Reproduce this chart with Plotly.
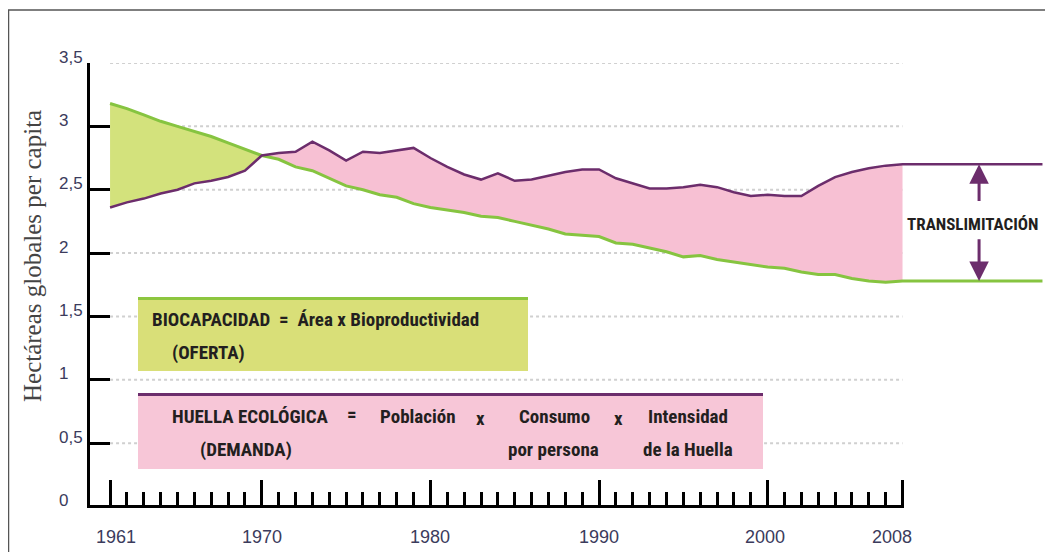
import plotly.graph_objects as go

years = list(range(1961, 2009))
huella = [2.36, 2.40, 2.43, 2.47, 2.50, 2.55, 2.57, 2.60, 2.65, 2.77,
          2.79, 2.80, 2.88, 2.81, 2.73, 2.80, 2.79, 2.81, 2.83, 2.75,
          2.68, 2.62, 2.58, 2.63, 2.57, 2.58, 2.61, 2.64, 2.66, 2.66,
          2.59, 2.55, 2.51, 2.51, 2.52, 2.54, 2.52, 2.48, 2.45, 2.46,
          2.45, 2.45, 2.53, 2.60, 2.64, 2.67, 2.69, 2.70]
biocapacidad = [3.18, 3.14, 3.09, 3.04, 3.00, 2.96, 2.92, 2.87, 2.82, 2.77,
                2.74, 2.68, 2.65, 2.59, 2.53, 2.50, 2.46, 2.44, 2.39, 2.36,
                2.34, 2.32, 2.29, 2.28, 2.25, 2.22, 2.19, 2.15, 2.14, 2.13,
                2.08, 2.07, 2.04, 2.01, 1.97, 1.98, 1.95, 1.93, 1.91, 1.89,
                1.88, 1.85, 1.83, 1.83, 1.80, 1.78, 1.77, 1.78]
label_years = [1961, 1970, 1980, 1990, 2000, 2008]
label_shift = [6, 0, 0, 0, -3, -11]
y_ticks = [0, 0.5, 1, 1.5, 2, 2.5, 3, 3.5]
cruce = years.index(1970)
fin_lineas = 2016.3

VERDE = '#86C440'
VERDE_FILL = '#D3E27C'
MORADO = '#6C2D6C'
ROSA = '#F7C0D3'
TXT = '#231F20'
EJE_TXT = '#3B3B5C'
FONT_TXT = 'Roboto Condensed, Liberation Sans Narrow, DejaVu Sans Condensed, Roboto, sans-serif'
FONT_EJE = 'Liberation Sans, Arial, sans-serif'

x_range = [1959.81, 2016.45]

# page pixel -> paper (page has 8px body margin; plot area 90..1045 x 63..508 on the page)
def xp(p):
    return (p - 90) / 955

def yp(p):
    return (508 - p) / 445

fig = go.Figure()

# relleno verde (1961-1970) y rosa (1970-2008)
fig.add_trace(go.Scatter(x = years[:cruce + 1], y = huella[:cruce + 1], mode = 'lines', line = dict(width = 0), hoverinfo = 'skip'))
fig.add_trace(go.Scatter(x = years[:cruce + 1], y = biocapacidad[:cruce + 1], mode = 'lines', line = dict(width = 0),
    fill = 'tonexty', fillcolor = VERDE_FILL, hoverinfo = 'skip'))
fig.add_trace(go.Scatter(x = years[cruce:], y = biocapacidad[cruce:], mode = 'lines', line = dict(width = 0), hoverinfo = 'skip'))
fig.add_trace(go.Scatter(x = years[cruce:], y = huella[cruce:], mode = 'lines', line = dict(width = 0),
    fill = 'tonexty', fillcolor = ROSA, hoverinfo = 'skip'))

# lineas, prolongadas en horizontal tras 2008
fig.add_trace(go.Scatter(x = years + [fin_lineas], y = biocapacidad + [biocapacidad[-1]], mode = 'lines',
    line = dict(color = VERDE, width = 3), name = 'Biocapacidad'))
fig.add_trace(go.Scatter(x = years + [fin_lineas], y = huella + [huella[-1]], mode = 'lines',
    line = dict(color = MORADO, width = 2.5), name = 'Huella'))

shapes = []
for v in y_ticks:
    if v == 0:
        continue
    shapes.append(dict(type = 'line', xref = 'x', yref = 'y', x0 = years[0], x1 = years[-1], y0 = v, y1 = v,
        line = dict(color = '#D0D0D0', width = 2, dash = 'dot'), layer = 'below'))
# eje x hasta 2008
shapes.append(dict(type = 'line', xref = 'x', yref = 'y', x0 = x_range[0], x1 = years[-1], y0 = 0, y1 = 0,
    line = dict(color = 'black', width = 3)))
# cajas
shapes.append(dict(type = 'rect', xref = 'paper', yref = 'paper', x0 = xp(138), x1 = xp(528), y0 = yp(371), y1 = yp(297),
    fillcolor = '#D9DF78', line = dict(width = 0)))
shapes.append(dict(type = 'line', xref = 'paper', yref = 'paper', x0 = xp(138), x1 = xp(528), y0 = yp(298.5), y1 = yp(298.5),
    line = dict(color = '#8DC63F', width = 3)))
shapes.append(dict(type = 'rect', xref = 'paper', yref = 'paper', x0 = xp(138), x1 = xp(763), y0 = yp(469), y1 = yp(393),
    fillcolor = '#F7C6D7', line = dict(width = 0)))
shapes.append(dict(type = 'line', xref = 'paper', yref = 'paper', x0 = xp(138), x1 = xp(763), y0 = yp(394.5), y1 = yp(394.5),
    line = dict(color = MORADO, width = 3)))
# marco
shapes.append(dict(type = 'line', xref = 'paper', yref = 'paper', x0 = xp(8.5), x1 = xp(8.5), y0 = yp(10), y1 = yp(560),
    line = dict(color = '#555555', width = 1.5)))
shapes.append(dict(type = 'line', xref = 'paper', yref = 'paper', x0 = xp(8), x1 = xp(1060), y0 = yp(10), y1 = yp(10),
    line = dict(color = '#555555', width = 1.5)))

def texto(t, x, y, anchor = 'left', size = 19):
    return dict(text = t, xref = 'paper', yref = 'paper', x = xp(x), y = yp(y), xanchor = anchor, yanchor = 'middle',
        showarrow = False, font = dict(family = FONT_TXT, size = size, color = TXT))

annotations = [
    texto('<b>BIOCAPACIDAD  =  Área x Bioproductividad</b>', 150, 319),
    texto('<b>(OFERTA)</b>', 170, 352),
    texto('<b>HUELLA ECOLÓGICA</b>', 170, 416),
    texto('<b>(DEMANDA)</b>', 198, 449),
    texto('<b>=</b>', 352, 414, 'center'),
    texto('<b>Población</b>', 418, 416, 'center'),
    texto('<b>x</b>', 480, 418, 'center'),
    texto('<b>Consumo</b>', 554, 416, 'center'),
    texto('<b>por persona</b>', 553, 449, 'center'),
    texto('<b>x</b>', 618, 418, 'center'),
    texto('<b>Intensidad</b>', 688, 416, 'center'),
    texto('<b>de la Huella</b>', 688, 449, 'center'),
    texto('<b>TRANSLIMITACIÓN</b>', 972, 224, 'center', 17),
    dict(text = 'Hectáreas globales per capita', xref = 'paper', yref = 'paper', x = xp(32), y = yp(256),
        textangle = -90, showarrow = False, xanchor = 'center', yanchor = 'middle',
        font = dict(family = 'Liberation Serif, serif', size = 25, color = '#444444')),
]

# etiquetas de los ejes
for v in y_ticks:
    annotations.append(dict(text = f"{v:g}".replace('.', ','), xref = 'paper', yref = 'y', x = xp(57), y = v, yshift = 6,
        xanchor = 'left', yanchor = 'middle', showarrow = False, font = dict(family = FONT_EJE, size = 17, color = EJE_TXT)))
for yr, sh in zip(label_years, label_shift):
    annotations.append(dict(text = str(yr), xref = 'x', yref = 'paper', x = yr, y = yp(537), xshift = sh,
        xanchor = 'center', yanchor = 'middle', showarrow = False, font = dict(family = FONT_EJE, size = 18, color = EJE_TXT)))

arrow_x = 2012.54
annotations.append(dict(text = '', x = arrow_x, y = huella[-1], ax = arrow_x, ay = 2.40, xref = 'x', yref = 'y',
    axref = 'x', ayref = 'y', showarrow = True, arrowhead = 2, arrowsize = 1.3, arrowwidth = 3, arrowcolor = MORADO))
annotations.append(dict(text = '', x = arrow_x, y = biocapacidad[-1], ax = arrow_x, ay = 2.12, xref = 'x', yref = 'y',
    axref = 'x', ayref = 'y', showarrow = True, arrowhead = 2, arrowsize = 1.3, arrowwidth = 3, arrowcolor = MORADO))

fig.update_layout(width = 1045, height = 544, autosize = False, showlegend = False, plot_bgcolor = 'white', paper_bgcolor = 'white',
    margin = dict(l = 82, r = 8, t = 55, b = 44), separators = ',.', shapes = shapes, annotations = annotations)
fig.update_xaxes(range = x_range, showline = False, showgrid = False, zeroline = False, showticklabels = False,
    tickmode = 'array', tickvals = label_years,
    ticks = 'inside', ticklen = 28, tickwidth = 2.5, tickcolor = 'black',
    minor = dict(tickmode = 'array', tickvals = years, ticks = 'inside', ticklen = 16, tickwidth = 2.5, tickcolor = 'black'))
fig.update_yaxes(range = [-0.012, 3.5], tickmode = 'array', tickvals = y_ticks, showgrid = False, zeroline = False,
    showticklabels = False, showline = True, linewidth = 3, linecolor = 'black',
    ticks = 'inside', ticklen = 20, tickwidth = 3, tickcolor = 'black')

fig.write_html("out.html")
